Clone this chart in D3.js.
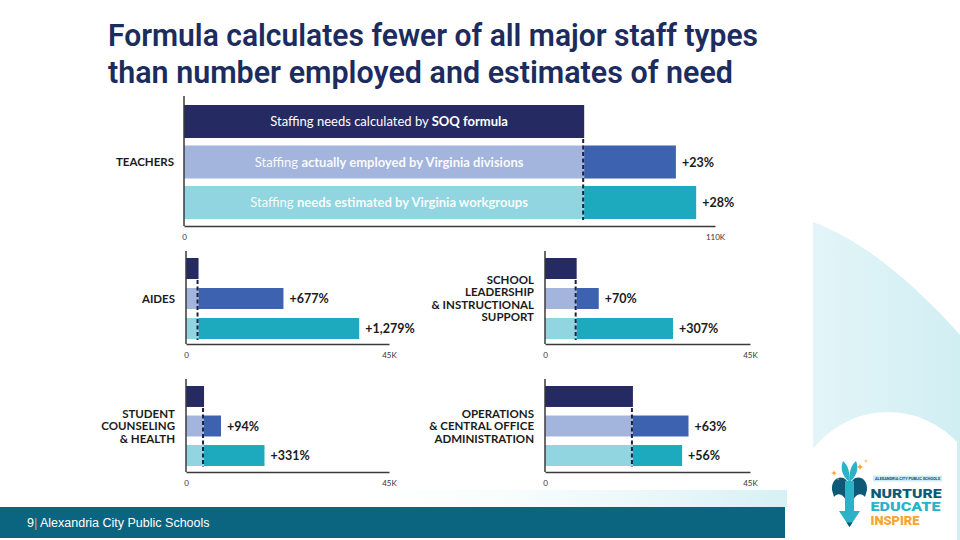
<!DOCTYPE html>
<html><head><meta charset="utf-8">
<script src="https://cdn.jsdelivr.net/npm/d3@7"></script>
<style>body{margin:0;background:#fff;} svg{display:block}</style>
</head><body>
<svg id="c" width="960" height="540"></svg>
<script>
// ---------------- DATA ----------------
const categories = ["TEACHERS","AIDES","SCHOOL LEADERSHIP & INSTRUCTIONAL SUPPORT","STUDENT COUNSELING & HEALTH","OPERATIONS & CENTRAL OFFICE ADMINISTRATION"];
const categoryLines = [["TEACHERS"],["AIDES"],["SCHOOL","LEADERSHIP","& INSTRUCTIONAL","SUPPORT"],["STUDENT","COUNSELING","& HEALTH"],["OPERATIONS","& CENTRAL OFFICE","ADMINISTRATION"]];
const seriesNames = ["Staffing needs calculated by SOQ formula","Staffing actually employed by Virginia divisions","Staffing needs estimated by Virginia workgroups"];
const soqValues = [82.9, 2.78, 6.95, 4.0, 19.3];        // thousands
const employedValues = [101.9, 21.6, 11.8, 7.76, 31.5];
const needsValues = [106.1, 38.4, 28.1, 17.4, 30.1];
const employedLabels = ["+23%","+677%","+70%","+94%","+63%"];
const needsLabels = ["+28%","+1,279%","+307%","+331%","+56%"];
const axisMaxValues = [110, 45, 45, 45, 45];
const tickLabels = [["0","110K"],["0","45K"],["0","45K"],["0","45K"],["0","45K"]];
const teacherBarTexts = [
  [["Staffing needs calculated by ",400],["SOQ formula",700]],
  [["Staffing ",400],["actually employed by Virginia divisions",700]],
  [["Staffing ",400],["needs estimated by Virginia workgroups",700]]
];
const titleLines = ["Formula calculates fewer of all major staff types","than number employed and estimates of need"];
const footerText = ["9","|"," Alexandria City Public Schools"];

// ---------------- LAYOUT ----------------
const layout = [
  {x0:184,x1:715,y0:105,y1:219,pad:0.185,axTop:96, axBot:226,labX:174},
  {x0:186,x1:389,y0:258,y1:339,pad:0.3,  axTop:251,axBot:344,labX:175},
  {x0:545,x1:750,y0:258,y1:339,pad:0.3,  axTop:251,axBot:344,labX:534},
  {x0:186,x1:389,y0:386,y1:466,pad:0.29, axTop:379,axBot:472,labX:175},
  {x0:545,x1:750,y0:386,y1:466,pad:0.29, axTop:379,axBot:472,labX:534}
];
const COL = {soq:"#252a62", empL:"#a3b5dd", empD:"#3d62b0", needL:"#90d5df", needD:"#1daabe",
             text:"#1b1b1b", axis:"#3a3a3a", dash:"#1c1f45", title:"#1c2c5e"};
const FONT = "Lato, 'Open Sans', sans-serif";

const svg = d3.select("#c");
const defs = svg.append("defs");
const g1 = defs.append("linearGradient").attr("id","cyanG").attr("x1","0").attr("x2","1").attr("y1","0").attr("y2","0");
g1.append("stop").attr("offset","0").attr("stop-color","#e3f5f8");
g1.append("stop").attr("offset","1").attr("stop-color","#d1eef3");
const g2 = defs.append("linearGradient").attr("id","fadeG").attr("x1","0").attr("x2","1").attr("y1","0").attr("y2","0");
g2.append("stop").attr("offset","0").attr("stop-color","#ffffff").attr("stop-opacity",0);
g2.append("stop").attr("offset","1").attr("stop-color","#d6f0f4");

svg.append("rect").attr("width",960).attr("height",540).attr("fill","#fff");

// --- right decoration ---
svg.append("path").attr("d","M813,222 C862,240 912,281 960,335 L960,540 L813,540 Z").attr("fill","url(#cyanG)");
svg.append("ellipse").attr("cx",888).attr("cy",520).attr("rx",100).attr("ry",108).attr("fill","#fff");
svg.append("rect").attr("x",957).attr("y",430).attr("width",3).attr("height",110).attr("fill","#d1eef3");
svg.append("rect").attr("x",300).attr("y",490).attr("width",487).attr("height",17).attr("fill","url(#fadeG)");

// --- footer ---
svg.append("rect").attr("x",0).attr("y",507).attr("width",785).attr("height",31).attr("fill","#0b6480");
const ft = svg.append("text").attr("x",27).attr("y",527).attr("font-family","'Liberation Sans', Arial, sans-serif")
  .attr("font-size",12.5).attr("fill","#fff");
ft.selectAll("tspan").data(footerText).join("tspan").text(d=>d).attr("fill",(d,i)=>i===1?"#e6a83a":"#fff");

// --- title ---
svg.selectAll("text.title").data(titleLines).join("text").attr("class","title")
  .attr("x",108).attr("y",(d,i)=>46+i*37)
  .attr("font-family","Roboto,'Liberation Sans',sans-serif")
  .attr("font-weight",600).attr("font-size",32).attr("fill",COL.title)
  .attr("textLength",(d,i)=>i===0?650:625).attr("lengthAdjust","spacingAndGlyphs")
  .text(d=>d);

// --- panels ---
categories.forEach((cat,p)=>{
  const L = layout[p];
  const x = d3.scaleLinear().domain([0,axisMaxValues[p]]).range([L.x0,L.x1]);
  const y = d3.scaleBand().domain([0,1,2]).range([L.y0,L.y1]).paddingInner(L.pad);
  const g = svg.append("g");
  const soq = soqValues[p], emp = employedValues[p], need = needsValues[p];

  g.append("rect").attr("x",x(0)).attr("y",y(0)).attr("width",x(soq)-x(0)).attr("height",y.bandwidth()).attr("fill",COL.soq);
  g.append("rect").attr("x",x(0)).attr("y",y(1)).attr("width",x(soq)-x(0)).attr("height",y.bandwidth()).attr("fill",COL.empL);
  g.append("rect").attr("x",x(soq)).attr("y",y(1)).attr("width",x(emp)-x(soq)).attr("height",y.bandwidth()).attr("fill",COL.empD);
  g.append("rect").attr("x",x(0)).attr("y",y(2)).attr("width",x(soq)-x(0)).attr("height",y.bandwidth()).attr("fill",COL.needL);
  g.append("rect").attr("x",x(soq)).attr("y",y(2)).attr("width",x(need)-x(soq)).attr("height",y.bandwidth()).attr("fill",COL.needD);

  g.append("line").attr("x1",x(soq)-1).attr("x2",x(soq)-1)
    .attr("y1",y(0)+y.bandwidth()+1).attr("y2",y(2)+y.bandwidth()+1)
    .attr("stroke",COL.dash).attr("stroke-width",2).attr("stroke-dasharray","4,2.5");

  g.append("line").attr("x1",L.x0).attr("x2",L.x0).attr("y1",L.axTop).attr("y2",L.axBot)
    .attr("stroke",COL.axis).attr("stroke-width",1.5);
  const ax = g.append("g").attr("transform",`translate(0,${L.axBot})`)
    .call(d3.axisBottom(x).tickValues([0,axisMaxValues[p]]).tickSize(0).tickPadding(8)
      .tickFormat((d,i)=>tickLabels[p][i]));
  ax.select(".domain").attr("stroke",COL.axis).attr("stroke-width",1.5);
  ax.selectAll("text").attr("font-family",FONT).attr("font-size",8).attr("fill","#333");

  g.append("text").attr("x",x(emp)+6).attr("y",y(1)+y.bandwidth()/2).attr("dy","0.36em")
    .attr("font-family",FONT).attr("font-weight",700).attr("font-size",12.5).attr("fill",COL.text).text(employedLabels[p]);
  g.append("text").attr("x",x(need)+6).attr("y",y(2)+y.bandwidth()/2).attr("dy","0.36em")
    .attr("font-family",FONT).attr("font-weight",700).attr("font-size",12.5).attr("fill",COL.text).text(needsLabels[p]);

  const lines = categoryLines[p];
  const mid = (L.y0+L.y1)/2, lh = 12.5;
  g.selectAll("text.cat").data(lines).join("text").attr("class","cat")
    .attr("x",L.labX).attr("y",(d,i)=>mid+(i-(lines.length-1)/2)*lh).attr("dy","0.36em")
    .attr("text-anchor","end").attr("font-family",FONT).attr("font-weight",700).attr("font-size",11.5)
    .attr("fill",COL.text).text(d=>d);

  if(p===0){
    teacherBarTexts.forEach((parts,i)=>{
      const t = g.append("text").attr("x",(x(0)+x(soq))/2+5).attr("y",y(i)+y.bandwidth()/2).attr("dy","0.36em")
        .attr("text-anchor","middle").attr("font-family",FONT).attr("font-size",13).attr("fill","#fff")
        .attr("fill-opacity", i===0?1:0.95);
      t.selectAll("tspan").data(parts).join("tspan").attr("font-weight",d=>d[1]).text(d=>d[0]);
    });
  }
});

// --- logo (simplified) ---
const logo = svg.append("g");
logo.append("rect").attr("x",873).attr("y",475.5).attr("width",69).attr("height",6).attr("fill","#cdeef3");
logo.append("text").attr("x",875).attr("y",480.3).attr("font-family","Roboto,sans-serif").attr("font-weight",700)
  .attr("font-size",4.3).attr("fill","#0e4f6c").attr("textLength",65).attr("lengthAdjust","spacingAndGlyphs")
  .text("ALEXANDRIA CITY PUBLIC SCHOOLS");
const logoWords = [["NURTURE","#0d5a77",497.5,71],["EDUCATE","#29b3c8",511,70],["INSPIRE","#f8a432",524.5,49]];
logo.selectAll("text.lw").data(logoWords).join("text").attr("class","lw")
  .attr("x",870.5).attr("y",d=>d[2]).attr("font-family","Roboto,'Open Sans',sans-serif").attr("font-weight",900)
  .attr("font-size",12).attr("fill",d=>d[1]).attr("textLength",d=>d[3]).attr("lengthAdjust","spacingAndGlyphs").text(d=>d[0]);
logo.append("path").attr("d","M832,490 C831,478 842,474 847,481 L847,503 C844,494 838,492 834,497 Z").attr("fill","#0d5a77");
logo.append("path").attr("d","M867,490 C868,478 857,474 852,481 L852,503 C855,494 861,492 865,497 Z").attr("fill","#0d5a77");
logo.append("path").attr("d","M845,481 L854,481 L854,512 L845,512 Z").attr("fill","#2bb2c6");
logo.append("path").attr("d","M849.5,482 C842,476 840,468 843,461 C848,465 850,472 849.5,482 Z").attr("fill","#2bb2c6");
logo.append("path").attr("d","M849.5,482 C857,476 859,468 856,461 C851,465 849,472 849.5,482 Z").attr("fill","#2bb2c6");
logo.append("path").attr("d","M839,511 L860,511 L849.5,527 Z").attr("fill","#2bb2c6");
logo.append("path").attr("d","M846.5,522.5 L852.5,522.5 L849.5,527 Z").attr("fill","#0d5a77");
const star = (cx,cy,r)=>`M${cx},${cy-r} Q${cx},${cy} ${cx+r},${cy} Q${cx},${cy} ${cx},${cy+r} Q${cx},${cy} ${cx-r},${cy} Q${cx},${cy} ${cx},${cy-r} Z`;
[[834,473,3.5],[860,467,4.2],[866,461,1.8],[838,479,1.5]].forEach(s=>logo.append("path").attr("d",star(...s)).attr("fill","#f8a432"));
</script>
</body></html>
